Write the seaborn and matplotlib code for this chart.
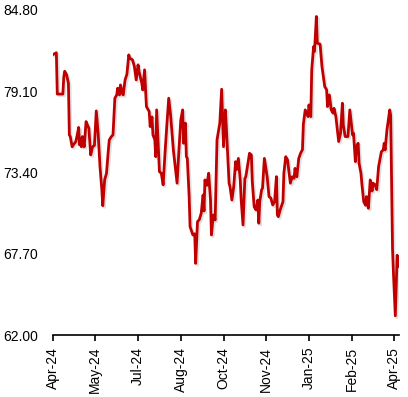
import numpy as np
import pandas as pd
import matplotlib
matplotlib.use("Agg")
import matplotlib.pyplot as plt
import matplotlib.dates as mdates
import matplotlib.patheffects as pe
import seaborn as sns

start_date = "2024-04-01"
days_since_start = [
    0, 4, 5, 11, 12, 13, 15, 17, 18, 19, 21, 23, 25, 27, 28, 29, 30, 31, 32, 34,
    36, 37, 39, 41, 43, 45, 47, 49, 51, 53, 54, 56, 58, 60, 61, 63, 65, 67, 69, 70,
    72, 73, 75, 76, 78, 80, 82, 83, 86, 88, 90, 92, 93, 96, 97, 99, 101, 102, 104, 105,
    107, 108, 110, 111, 112, 114, 115, 117, 119, 121, 123, 125, 127, 128, 130, 134, 136, 138, 140, 141,
    143, 144, 145, 147, 148, 151, 153, 154, 156, 158, 160, 162, 163, 164, 166, 168, 170, 171, 173, 175,
    177, 180, 182, 184, 186, 187, 190, 191, 193, 195, 197, 198, 200, 202, 203, 205, 207, 208, 210, 212,
    214, 215, 217, 219, 221, 222, 223, 225, 226, 228, 231, 233, 235, 237, 239, 241, 242, 243, 245, 248,
    249, 251, 253, 254, 256, 258, 260, 261, 263, 265, 267, 269, 270, 272, 275, 276, 278, 279, 281, 282,
    284, 285, 288, 290, 293, 295, 296, 298, 300, 302, 303, 305, 308, 310, 312, 313, 315, 318, 320, 323,
    324, 326, 327, 329, 330, 332, 333, 335, 337, 338, 340, 342, 344, 345, 347, 349, 351, 353, 354, 356,
    357, 358, 360, 362, 363, 364, 366, 367, 369, 371, 373,
]
price = [
    81.65, 81.80, 78.90, 78.90, 80.10, 80.50, 80.25, 79.66, 76.04, 75.92, 75.20, 75.40, 75.57, 76.20, 76.56, 75.33, 75.80, 75.20, 75.92, 75.20,
    76.97, 76.80, 76.50, 74.63, 75.20, 75.30, 77.72, 76.15, 73.81, 72.18, 71.07, 72.88, 73.35, 74.98, 75.68, 75.90, 76.04, 78.61, 78.84, 79.31,
    78.84, 79.54, 78.95, 78.84, 79.89, 80.30, 81.65, 81.42, 81.30, 80.84, 79.89, 80.95, 80.50, 79.66, 79.19, 80.60, 78.02, 77.90, 77.67, 76.62,
    77.30, 76.04, 75.70, 74.51, 77.79, 74.98, 73.46, 73.35, 72.53, 74.75, 76.74, 78.61, 77.44, 76.60, 74.98, 72.65, 74.98, 77.09, 77.79, 75.45,
    76.86, 74.51, 74.40, 71.71, 69.60, 69.02, 69.10, 67.03, 69.95, 70.10, 70.54, 71.82, 70.70, 72.88, 72.50, 73.35, 71.47, 69.02, 70.42, 70.07,
    75.68, 76.86, 79.24, 75.21, 77.79, 76.62, 72.65, 72.41, 71.47, 72.41, 74.16, 73.60, 74.39, 72.88, 71.50, 69.72, 72.99, 73.10, 73.93, 74.75,
    74.63, 72.76, 71.00, 70.77, 71.47, 69.84, 71.35, 72.18, 72.30, 74.39, 73.10, 71.71, 71.60, 71.12, 71.35, 73.11, 70.42, 70.30, 70.77, 71.35,
    73.35, 74.51, 74.27, 73.69, 72.65, 73.10, 72.99, 73.69, 73.10, 74.39, 74.75, 75.00, 76.80, 77.79, 77.32, 78.14, 77.32, 80.60, 82.23, 81.90,
    84.34, 82.47, 82.40, 80.84, 79.42, 79.20, 78.02, 78.84, 77.79, 77.56, 77.90, 77.32, 75.57, 76.15, 78.26, 76.74, 75.92, 75.92, 77.79, 76.04,
    76.15, 74.16, 75.21, 75.45, 74.04, 73.35, 72.60, 71.35, 71.10, 71.71, 70.89, 72.88, 72.10, 72.65, 72.55, 72.20, 73.81, 74.51, 74.86, 74.98,
    75.45, 74.98, 76.39, 77.32, 77.79, 77.40, 68.07, 66.33, 63.35, 67.60, 66.80,
]
y_ticks = [62.00, 67.70, 73.40, 79.10, 84.80]
x_tick_dates = ["2024-04-01", "2024-05-17", "2024-07-02", "2024-08-17", "2024-10-02",
                "2024-11-17", "2025-01-02", "2025-02-17", "2025-04-04"]
x_end_date = "2025-04-09"

dates = pd.Timestamp(start_date) + pd.to_timedelta(days_since_start, unit="D")
df = pd.DataFrame({"date": dates, "price": price})

sns.set_style("white")
plt.rcParams["font.family"] = ["Liberation Sans", "DejaVu Sans"]

fig = plt.figure(figsize=(4.08, 3.97), dpi=100)
ax = fig.add_axes([0.129, 0.156, 0.849, 0.819])

sns.lineplot(data=df, x="date", y="price", ax=ax, color="#C00000", linewidth=2.0,
             path_effects=[pe.SimpleLineShadow(offset=(1.2, -1.2), shadow_color="gray", alpha=0.25),
                           pe.Normal()])

ax.set_xlim(pd.Timestamp(start_date), pd.Timestamp(x_end_date))
ax.set_ylim(y_ticks[0], y_ticks[-1])
ax.set_yticks(y_ticks)
ax.set_yticklabels([f"{v:.2f}" for v in y_ticks])
ax.set_xticks(pd.to_datetime(x_tick_dates))
ax.xaxis.set_major_formatter(mdates.DateFormatter("%b-%y"))
ax.set_xlabel("")
ax.set_ylabel("")
for lab in ax.get_xticklabels():
    lab.set_rotation(90)

for s in ["top", "right", "left"]:
    ax.spines[s].set_visible(False)
ax.spines["bottom"].set_color("black")
ax.spines["bottom"].set_linewidth(1.2)
ax.tick_params(axis="x", direction="out", length=4, width=1.2, color="black",
               labelsize=10, labelcolor="black", pad=4.5, bottom=True)
ax.tick_params(axis="y", length=0, labelsize=10, labelcolor="black", pad=10.5)
ax.grid(False)

fig.savefig("out.png", dpi=100)
